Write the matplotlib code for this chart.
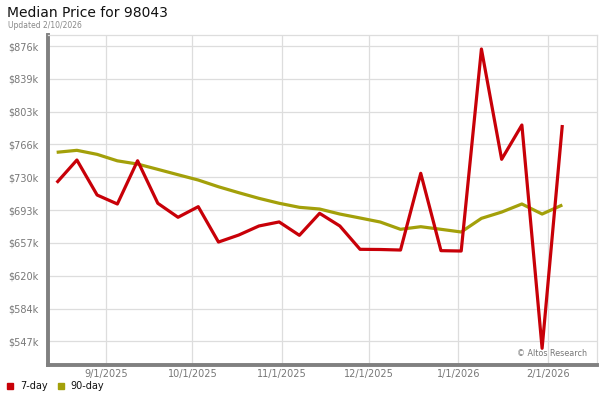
import matplotlib.pyplot as plt
import matplotlib.dates as mdates
import numpy as np
import pandas as pd

dates = pd.date_range("2025-08-15", periods=26, freq="7D")
day7 = [723.7, 749.0, 710.0, 700.0, 748.2, 700.8, 685.2, 697.0, 657.6, 665.4,
        675.5, 680.0, 665.1, 689.6, 675.5, 649.5, 649.3, 648.7, 734.2, 648.0,
        647.6, 872.7, 749.8, 788.0, 539.2, 788.0]
day90 = [757.6, 759.8, 755.3, 748.1, 744.5, 738.6, 732.6, 726.7, 719.2, 712.6,
         706.3, 700.8, 696.3, 694.4, 688.8, 684.4, 679.9, 671.8, 674.7, 671.8,
         668.8, 684.0, 691.0, 700.0, 688.8, 698.9]
yticks = [547.0 + 36.55 * i for i in range(10)]
xticks = pd.to_datetime(["2025-09-01", "2025-10-01", "2025-11-01",
                         "2025-12-01", "2026-01-01", "2026-02-01"])

plt.rcParams['font.family'] = ['DejaVu Sans']
fig = plt.figure(figsize=(6, 4), dpi=100)
ax = fig.add_axes([0.08, 0.0875, 0.915, 0.825])

red = '#c80008'
olive = '#a3a00a'
ax.plot(dates, day90, color=olive, lw=2.3, solid_capstyle='butt', zorder=3)
ax.plot(dates, day7, color=red, lw=2.3, solid_capstyle='butt', zorder=4)

ax.set_xlim(pd.Timestamp("2025-08-12"), pd.Timestamp("2026-02-18"))
ax.set_ylim(520.6, 888.3)
ax.set_yticks(yticks)
ax.set_yticklabels([f"${round(v)}k" for v in yticks])
ax.set_xticks(xticks)
ax.xaxis.set_major_formatter(mdates.DateFormatter("%-m/%-d/%Y"))

ax.grid(True, color='#dddddd', lw=0.9)
ax.set_axisbelow(True)
ax.tick_params(length=0, labelsize=7, colors='#777777')
ax.tick_params(axis='y', pad=7)
ax.tick_params(axis='x', pad=3)
for s in ['top', 'right']:
    ax.spines[s].set_color('#dddddd')
    ax.spines[s].set_linewidth(0.9)
for s in ['left', 'bottom']:
    ax.spines[s].set_color('#808080')
    ax.spines[s].set_linewidth(2.8)

fig.text(0.012, 0.968, "Median Price for 98043", fontsize=10, color='#111111', va='center')
fig.text(0.013, 0.937, "Updated 2/10/2026", fontsize=5.5, color='#888888', va='center')
ax.text(0.982, 0.035, "\u00a9 Altos Research", transform=ax.transAxes, fontsize=5.8,
        color='#777777', ha='right', va='center')

# legend
fig.patches.append(plt.Rectangle((0.012, 0.028), 0.01, 0.015, transform=fig.transFigure,
                                 color=red, figure=fig))
fig.text(0.034, 0.035, "7-day", fontsize=7, color='#111111', va='center')
fig.patches.append(plt.Rectangle((0.096, 0.028), 0.01, 0.015, transform=fig.transFigure,
                                 color=olive, figure=fig))
fig.text(0.118, 0.035, "90-day", fontsize=7, color='#111111', va='center')

fig.savefig("out.png", dpi=100)
